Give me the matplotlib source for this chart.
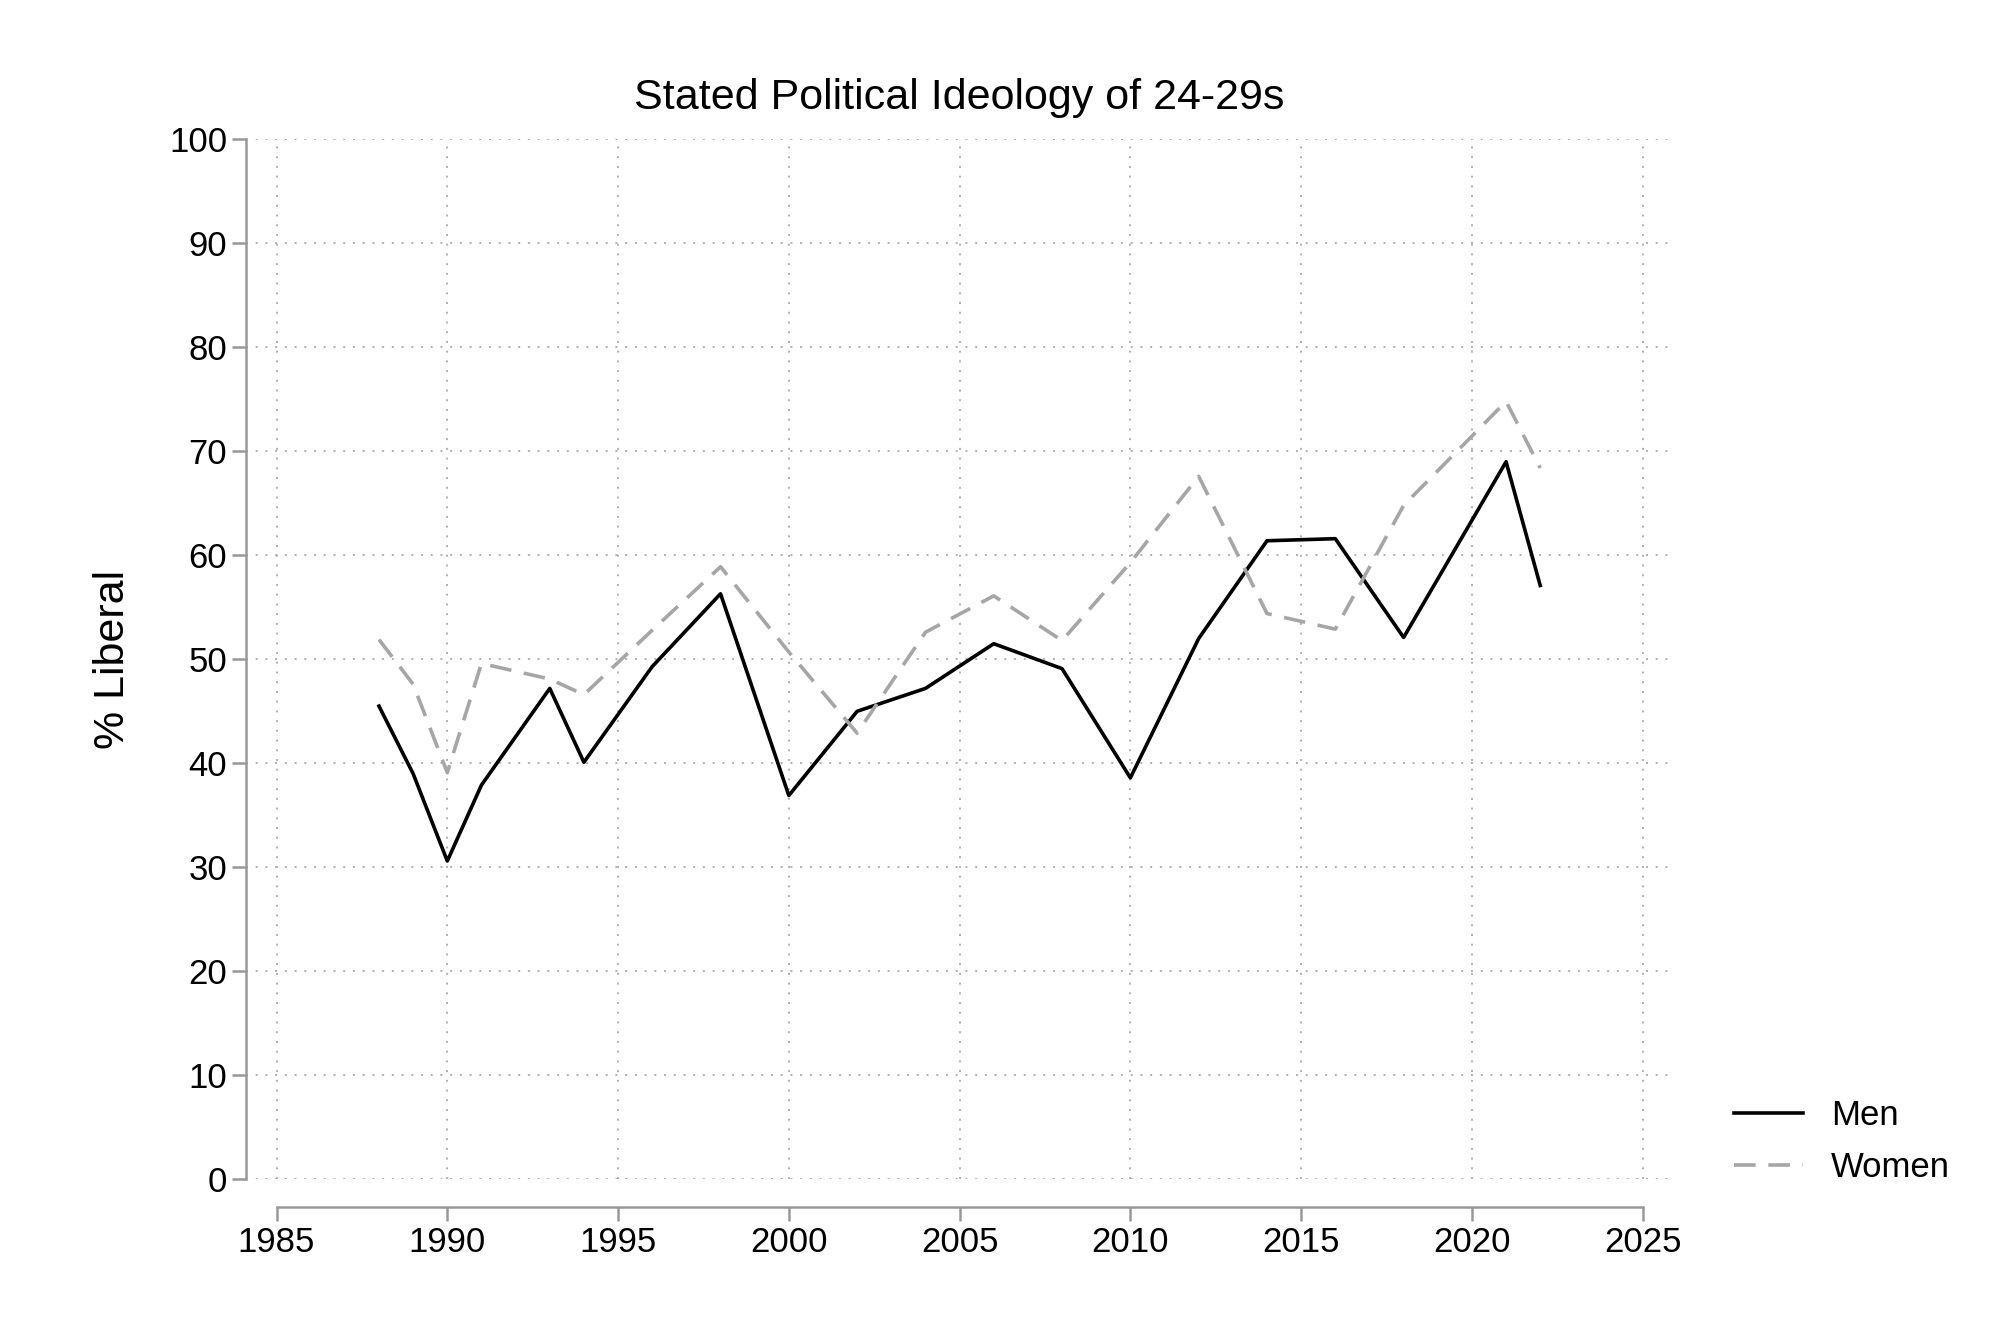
import numpy as np
from matplotlib import pyplot as plt

years = [1988, 1989, 1990, 1991, 1993, 1994, 1996, 1998, 2000, 2002, 2004,
         2006, 2008, 2010, 2012, 2014, 2016, 2018, 2021, 2022]
men = [45.5, 39.0, 30.6, 37.9, 47.2, 40.1, 49.3, 56.3, 36.9, 45.0, 47.2,
       51.5, 49.1, 38.6, 52.0, 61.4, 61.6, 52.1, 69.0, 57.1]
women = [51.9, 47.6, 39.1, 49.6, 48.1, 46.6, 52.8, 58.9, 50.7, 42.9, 52.6,
         56.1, 51.8, 59.3, 67.6, 54.4, 52.9, 64.8, 74.8, 68.4]

plt.rcParams['font.family'] = ['Liberation Sans', 'DejaVu Sans']

fig = plt.figure(figsize=(20.08, 13.38), dpi=100)
ax = fig.add_axes([0.1224, 0.1187, 0.7103, 0.7771])

ax.plot(years, men, color='black', lw=2.6, label='Men')
ax.plot(years, women, color='#a6a6a6', lw=2.6, ls=(0, (6, 3.5)), label='Women')

ax.set_xlim(1984.1, 2025.86)
ax.set_ylim(0, 100)
ax.set_xticks(np.arange(1985, 2026, 5))
ax.set_yticks(np.arange(0, 101, 10))
ax.grid(True, color='#b0b0b0', ls=(0, (1, 4)), lw=1.4)

for s in ['top', 'right']:
    ax.spines[s].set_visible(False)
ax.spines['bottom'].set_position(('outward', 20))
ax.spines['bottom'].set_bounds(1985, 2025)
ax.spines['left'].set_bounds(0, 100)
for s in ['bottom', 'left']:
    ax.spines[s].set_color('#999999')
    ax.spines[s].set_linewidth(1.8)
ax.tick_params(colors='#999999', labelcolor='black', labelsize=25, width=1.8, length=10)

ax.set_ylabel('% Liberal', fontsize=31, labelpad=26)
ax.set_title('Stated Political Ideology of 24-29s', fontsize=31, pad=22)

fig.legend(loc='center left', bbox_to_anchor=(0.848, 0.147), frameon=False,
           fontsize=25, handlelength=2.0, labelspacing=0.55)

fig.savefig('out.png')
